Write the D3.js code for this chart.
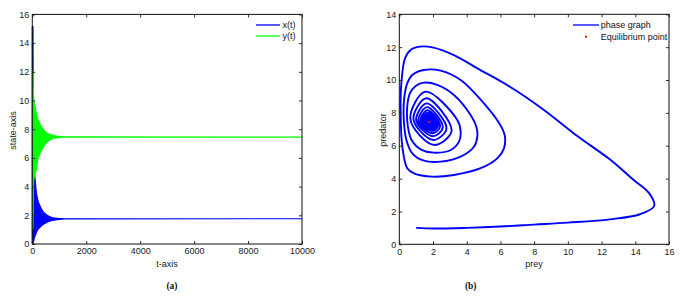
<!DOCTYPE html>
<html><head><meta charset="utf-8">
<script src="https://cdn.jsdelivr.net/npm/d3@7"></script>
<style>body{margin:0;background:#fff}svg{display:block}</style>
</head><body>
<script>
// ---- data: panel (a) oscillation envelopes ----
const timeVals   = [0, 25, 40, 60, 100, 150, 200, 275, 350, 460, 550, 700, 850, 1000, 1200, 10000];
const xUpper     = [15.15, 15.15, 6.2, 5.3, 4.6, 3.6, 3.1, 2.7, 2.4, 2.14, 2.0, 1.86, 1.8, 1.77, 1.76, 1.76];
const xLower     = [0.05, 0.05, 0.1, 0.3, 0.55, 0.8, 0.98, 1.15, 1.28, 1.43, 1.52, 1.62, 1.68, 1.72, 1.75, 1.76];
const yUpper     = [12.03, 12.03, 10.6, 10.0, 9.6, 9.1, 8.75, 8.4, 8.15, 7.85, 7.72, 7.6, 7.53, 7.5, 7.47, 7.45];
const yLower     = [1.0, 1.0, 4.1, 4.5, 4.9, 5.2, 5.85, 6.25, 6.55, 6.9, 7.1, 7.3, 7.38, 7.42, 7.45, 7.45];
const tTicks     = [0, 2000, 4000, 6000, 8000, 10000];
const stateTicks = [0, 2, 4, 6, 8, 10, 12, 14, 16];

// ---- data: panel (b) phase trajectory (prey, predator) ----
const preyVals = [1.0,2.0,4.0,6.0,8.0,10.0,12.5,14.28,15.12,14.83,13.85,12.54,10.56,8.58,6.61,4.63,3.24,1.96,1.23,0.67,0.34,0.12,0.08,0.18,0.47,0.87,1.96,3.24,4.83,5.81,6.21,6.25,5.91,5.02,3.64,2.45,1.46,0.77,0.47,0.28,0.28,0.42,0.77,1.46,2.45,3.64,4.43,4.63,4.57,4.23,3.24,2.25,1.46,0.97,0.63,0.47,0.51,0.73,1.27,2.06,3.05,3.54,3.64,3.44,
  1.55,0.66,2.05,3.1, 1.6,0.84,2.02,2.8, 1.62,1.0,2.0,2.58, 1.65,1.13,1.97,2.42, 1.68,1.25,1.94,2.3, 1.7,1.35,1.92,2.2, 1.71,1.43,1.9,2.12, 1.72,1.5,1.88,2.06, 1.73,1.55,1.86,2.0, 1.74,1.6,1.84,1.95, 1.75,1.64,1.82,1.91, 1.76,1.68,1.8,1.87, 1.76];
const predatorVals = [1.0,0.96,1.0,1.08,1.2,1.32,1.52,1.83,2.33,3.1,3.96,5.13,6.59,8.18,9.56,10.71,11.52,11.99,12.03,11.83,11.32,9.8,7.97,5.94,4.63,4.32,4.12,4.22,4.63,5.23,5.84,6.65,7.4,8.58,10.0,10.57,10.61,10.31,9.8,8.78,7.36,6.35,5.54,5.09,5.03,5.34,5.94,6.55,7.16,7.87,9.09,9.70,9.84,9.64,9.19,8.38,7.16,6.35,5.78,5.58,5.74,6.25,6.86,7.57,
  9.29,7.6,6.05,6.9, 8.89,7.6,6.35,7.05, 8.58,7.55,6.58,7.12, 8.35,7.52,6.76,7.18, 8.17,7.5,6.9,7.22, 8.02,7.49,7.0,7.26, 7.9,7.48,7.08,7.3, 7.8,7.47,7.15,7.33, 7.72,7.47,7.2,7.35, 7.66,7.46,7.26,7.37, 7.6,7.46,7.3,7.39, 7.55,7.46,7.35,7.41, 7.45];
const equilibrium = [1.76, 7.45];
const preyTicks = [0, 2, 4, 6, 8, 10, 12, 14, 16];
const predTicks = [0, 2, 4, 6, 8, 10, 12, 14];

const BLUE = "#0000ff", GREEN = "#00ff00";
const FONT = "'Liberation Sans', Arial, sans-serif";
const fmt = d3.format("d");

const svg = d3.select("body").append("svg").attr("width", 684).attr("height", 299)
  .style("font-family", FONT);
svg.append("rect").attr("width", 684).attr("height", 299).attr("fill", "#fff");

function frame(g, x, y, xt, yt) {
  const [x0, x1] = x.range(), [y0, y1] = y.range();
  const bottom = g.append("g").attr("transform", `translate(0,${y0})`)
    .call(d3.axisBottom(x).tickValues(xt).tickFormat(fmt).tickSizeInner(-3).tickSizeOuter(0).tickPadding(4));
  const left = g.append("g").attr("transform", `translate(${x0},0)`)
    .call(d3.axisLeft(y).tickValues(yt).tickFormat(fmt).tickSizeInner(-3).tickSizeOuter(0).tickPadding(3));
  const top = g.append("g").attr("transform", `translate(0,${y1})`)
    .call(d3.axisTop(x).tickValues(xt).tickSizeInner(-3).tickSizeOuter(0).tickFormat(""));
  const right = g.append("g").attr("transform", `translate(${x1},0)`)
    .call(d3.axisRight(y).tickValues(yt).tickSizeInner(-3).tickSizeOuter(0).tickFormat(""));
  [bottom, left, top, right].forEach(a => {
    a.select(".domain").remove();
    a.selectAll("text").attr("font-size", 9).attr("font-family", FONT).attr("fill", "#222");
    a.selectAll("line").attr("stroke", "#333");
  });
  g.append("rect").attr("x", x0).attr("y", y1).attr("width", x1 - x0).attr("height", y0 - y1)
    .attr("fill", "none").attr("stroke", "#111").attr("stroke-width", 1);
}

// ---------- panel (a) ----------
{
  const g = svg.append("g");
  const x = d3.scaleLinear().domain([0, 10000]).range([32.3, 302]);
  const y = d3.scaleLinear().domain([0, 16]).range([244, 14.4]);
  const idx = d3.range(timeVals.length);
  const area = (lo, hi) => d3.area().x(i => x(timeVals[i])).y0(i => y(lo[i])).y1(i => y(hi[i])).curve(d3.curveMonotoneX);
  g.append("path").attr("d", area(xLower, xUpper)(idx)).attr("fill", BLUE).attr("stroke", BLUE).attr("stroke-width", 1.2);
  g.append("path").attr("d", area(yLower, yUpper)(idx)).attr("fill", GREEN).attr("stroke", GREEN).attr("stroke-width", 1.2);
  frame(g, x, y, tTicks, stateTicks);
  const leg = [["x(t)", BLUE, 25], ["y(t)", GREEN, 36]];
  leg.forEach(([t, c, yy]) => {
    g.append("line").attr("x1", 256).attr("x2", 280).attr("y1", yy).attr("y2", yy).attr("stroke", c).attr("stroke-width", 1.3);
    g.append("text").attr("x", 282.5).attr("y", yy + 3.3).attr("font-size", 9).attr("fill", "#111").text(t);
  });
  g.append("text").attr("x", 167).attr("y", 266.5).attr("text-anchor", "middle").attr("font-size", 9).attr("fill", "#222").text("t-axis");
  g.append("text").attr("transform", "translate(16,130.5) rotate(-90)").attr("text-anchor", "middle").attr("font-size", 9).attr("fill", "#222").text("state-axis");
  g.append("text").attr("x", 172).attr("y", 289).attr("text-anchor", "middle").attr("font-size", 9.5)
    .attr("font-weight", "bold").attr("font-family", "'Liberation Serif', 'Times New Roman', serif").attr("fill", "#111").text("(a)");
}

// ---------- panel (b) ----------
{
  const g = svg.append("g");
  const x = d3.scaleLinear().domain([0, 16]).range([399.3, 669]);
  const y = d3.scaleLinear().domain([0, 14]).range([244.3, 14.3]);
  const idx = d3.range(preyVals.length);
  const line = d3.line().x(i => x(preyVals[i])).y(i => y(predatorVals[i])).curve(d3.curveCatmullRom.alpha(0.5));
  g.append("path").attr("d", line(idx)).attr("fill", "none").attr("stroke", BLUE).attr("stroke-width", 1.9).attr("stroke-linejoin", "round");
  g.append("rect").attr("x", x(equilibrium[0]) - 1).attr("y", y(equilibrium[1]) - 1).attr("width", 2).attr("height", 2).attr("fill", "#ff0000");
  frame(g, x, y, preyTicks, predTicks);
  g.append("line").attr("x1", 573).attr("x2", 599).attr("y1", 25).attr("y2", 25).attr("stroke", BLUE).attr("stroke-width", 1.3);
  g.append("text").attr("x", 600.7).attr("y", 28.3).attr("font-size", 9).attr("fill", "#111").text("phase graph");
  g.append("rect").attr("x", 585).attr("y", 35.7).attr("width", 2).attr("height", 2).attr("fill", "#ff0000");
  g.append("text").attr("x", 600.7).attr("y", 40).attr("font-size", 9).attr("fill", "#111").text("Equilibrium point");
  g.append("text").attr("x", 534).attr("y", 266.5).attr("text-anchor", "middle").attr("font-size", 9).attr("fill", "#222").text("prey");
  g.append("text").attr("transform", "translate(386,130) rotate(-90)").attr("text-anchor", "middle").attr("font-size", 9).attr("fill", "#222").text("predator");
  g.append("text").attr("x", 470.7).attr("y", 289).attr("text-anchor", "middle").attr("font-size", 9.5)
    .attr("font-weight", "bold").attr("font-family", "'Liberation Serif', 'Times New Roman', serif").attr("fill", "#111").text("(b)");
}
</script>
</body></html>
